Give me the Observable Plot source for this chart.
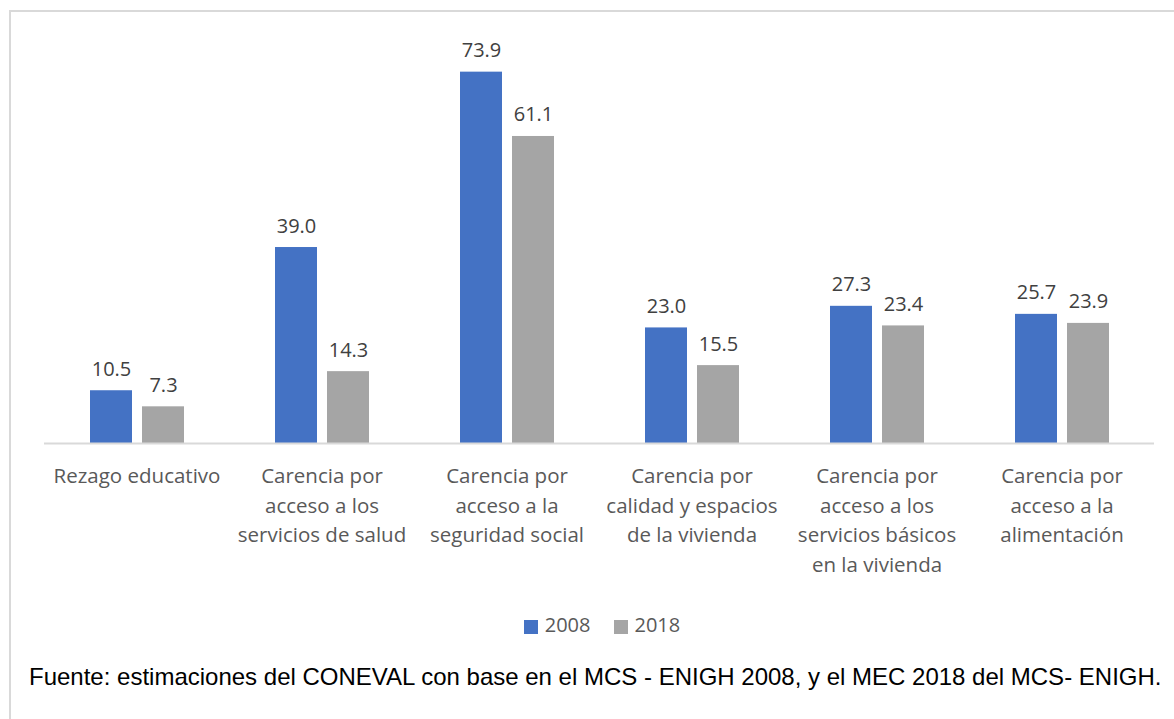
<!DOCTYPE html>
<html>
<head>
<meta charset="utf-8">
<script src="https://cdn.jsdelivr.net/npm/d3@7"></script>
<script src="https://cdn.jsdelivr.net/npm/@observablehq/plot@0.6"></script>
<style>
  html, body { margin: 0; padding: 0; background: #fff; }
  #wrap { position: relative; width: 1174px; height: 719px; overflow: hidden; }
  #frame { position: absolute; left: 9px; top: 10px; width: 1200px; height: 800px;
           border-left: 2px solid #d9d9d9; border-top: 2px solid #d9d9d9; box-sizing: border-box; }
  #chart { position: absolute; left: 0; top: 0; }
  #legend { position: absolute; left: 0; top: 615px; width: 1204px; height: 20px; display: flex; justify-content: center;
            font-family: "Open Sans", sans-serif; font-size: 20px; line-height: 20px; color: #595959; gap: 23px; }
  #legend span.item { display: flex; align-items: center; gap: 7px; }
  #legend span.sw { display: inline-block; width: 14px; height: 14px; margin-top: 3px; }
  #caption { position: absolute; left: 29px; top: 665px; font-family: "Liberation Sans", Arial, sans-serif;
             font-size: 24px; line-height: 24px; color: #000; white-space: nowrap; }
</style>
</head>
<body>
<div id="wrap">
  <div id="frame"></div>
  <div id="chart"></div>
  <div id="legend"></div>
  <div id="caption">Fuente: estimaciones del CONEVAL con base en el MCS - ENIGH 2008, y el MEC 2018 del MCS- ENIGH.</div>
</div>
<script>
const categories = [
  "Rezago educativo",
  "Carencia por acceso a los servicios de salud",
  "Carencia por acceso a la seguridad social",
  "Carencia por calidad y espacios de la vivienda",
  "Carencia por acceso a los servicios básicos en la vivienda",
  "Carencia por acceso a la alimentación"
];
const tickLabels = [
  "Rezago educativo",
  "Carencia por\nacceso a los\nservicios de salud",
  "Carencia por\nacceso a la\nseguridad social",
  "Carencia por\ncalidad y espacios\nde la vivienda",
  "Carencia por\nacceso a los\nservicios básicos\nen la vivienda",
  "Carencia por\nacceso a la\nalimentación"
];
const years = ["2008", "2018"];
const values2008 = [10.5, 39.0, 73.9, 23.0, 27.3, 25.7];
const values2018 = [7.3, 14.3, 61.1, 15.5, 23.4, 23.9];
const colors = ["#4472C4", "#A5A5A5"];

const data = [];
categories.forEach((c, i) => {
  data.push({category: c, year: years[0], value: values2008[i]});
  data.push({category: c, year: years[1], value: values2018[i]});
});
const labelOf = new Map(categories.map((c, i) => [c, tickLabels[i]]));

const chart = Plot.plot({
  width: 1174,
  height: 600,
  marginLeft: 41,
  marginRight: 18,
  marginTop: 41,
  marginBottom: 157,
  style: { fontFamily: "Open Sans, sans-serif", background: "transparent" },
  fx: { domain: categories, padding: 0, label: null },
  x: { domain: years, paddingInner: 0.2, paddingOuter: 0.86, axis: null },
  y: { domain: [0, 80], axis: null },
  color: { domain: years, range: colors },
  marks: [
    Plot.barY(data, { fx: "category", x: "year", y: "value", fill: "year" }),
    Plot.ruleY([0], { stroke: "#d9d9d9", strokeWidth: 2 }),
    Plot.text(data, { fx: "category", x: "year", y: "value", text: d => d3.format(".1f")(d.value),
      lineAnchor: "bottom", dy: -15, fontSize: 20, fill: "#404040" }),
    Plot.axisFx({ anchor: "bottom", tickSize: 0, tickPadding: 19, tickFormat: d => labelOf.get(d), fontSize: 20.5,
      lineHeight: 1.44, lineAnchor: "top", fill: "#595959", label: null })
  ]
});
document.getElementById("chart").appendChild(chart);

const legend = document.getElementById("legend");
years.forEach((y, i) => {
  const item = document.createElement("span");
  item.className = "item";
  const sw = document.createElement("span");
  sw.className = "sw";
  sw.style.background = colors[i];
  item.appendChild(sw);
  item.appendChild(document.createTextNode(y));
  legend.appendChild(item);
});
</script>
</body>
</html>
